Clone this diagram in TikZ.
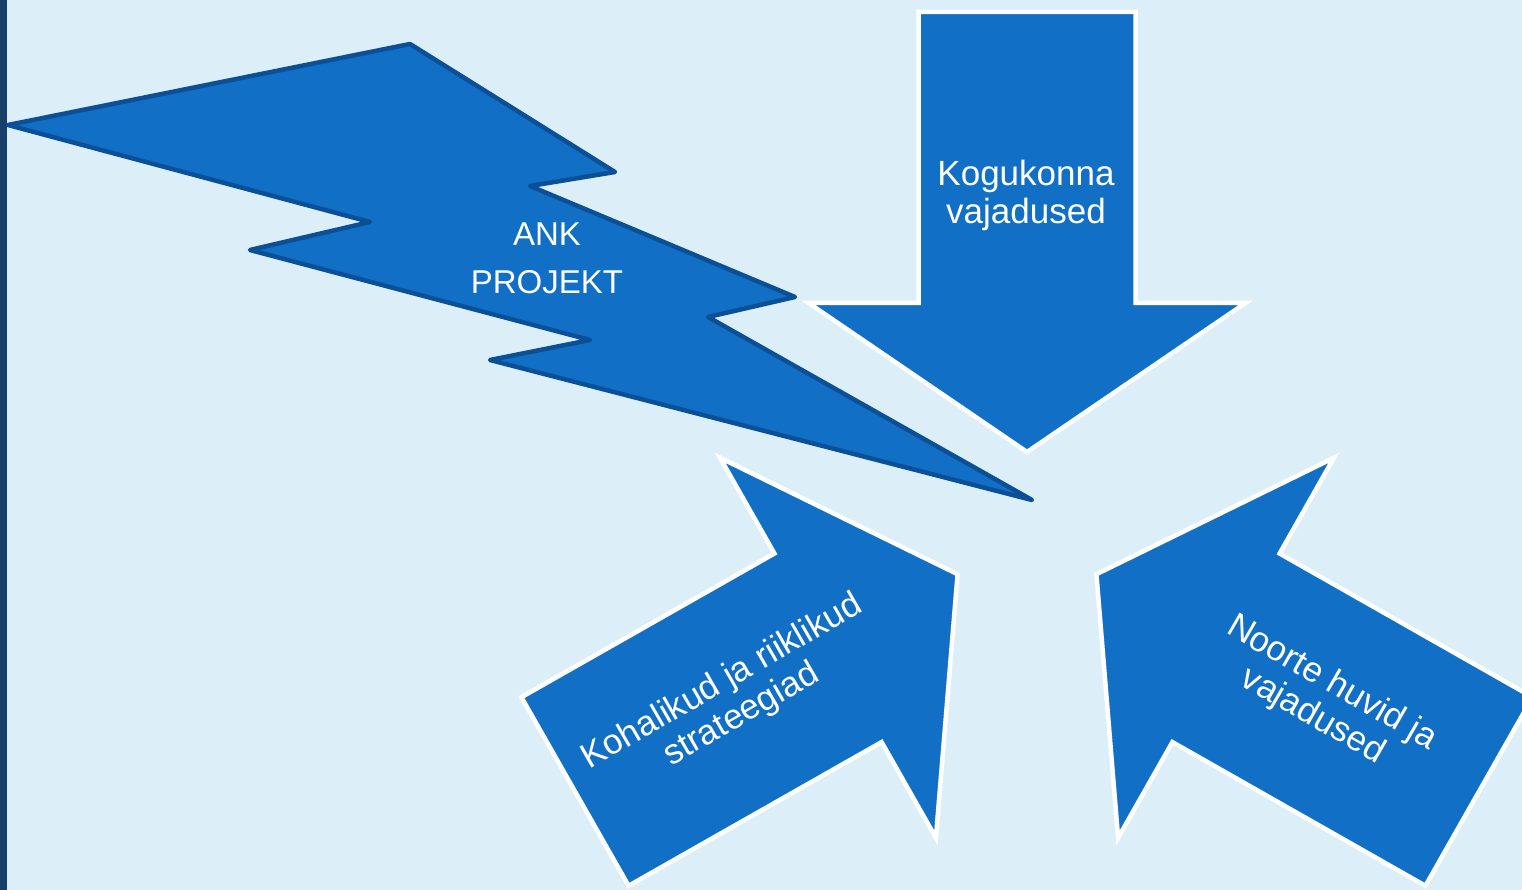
\documentclass[tikz,border=0pt]{standalone}
\usepackage{fontspec}
\setmainfont{Liberation Sans}
\definecolor{bgblue}{HTML}{DCEFF8}
\definecolor{barblue}{HTML}{173F6C}
\definecolor{fillblue}{HTML}{1170C5}
\definecolor{boltline}{HTML}{0B4F96}
\begin{document}
\begin{tikzpicture}[x=1pt,y=-1pt,
  arrowshape/.style={fill=fillblue,draw=white,line width=4.5pt,line join=miter},
  boltshape/.style={fill=fillblue,draw=boltline,line width=4.5pt,line join=round},
  label/.style={text=white,align=center,inner sep=0pt}]
\useasboundingbox (0,0) rectangle (1522,890);
\clip (0,0) rectangle (1522,890);
\fill[bgblue] (0,0) rectangle (1522,890);
\fill[barblue] (0,0) rectangle (7,890);
% down arrow
\draw[arrowshape] (918.5,12) -- (1135.5,12) -- (1135.5,303) -- (1245.5,303) -- (1027,452) -- (808.5,303) -- (918.5,303) -- cycle;
% lower left arrow
\draw[arrowshape] (521.4,697.2) -- (774.4,553.5) -- (720.1,457.8) -- (957.6,574.2) -- (935.9,837.8) -- (881.6,742.1) -- (628.6,885.8) -- cycle;
% lower right arrow
\draw[arrowshape] (1532.6,697.2) -- (1279.6,553.5) -- (1333.9,457.8) -- (1096.4,574.2) -- (1118.1,837.8) -- (1172.4,742.1) -- (1425.4,885.8) -- cycle;
% bolt
\draw[boltshape] (8,125) -- (410,44) -- (615,172) -- (530,186) -- (795,297) -- (708,317) -- (1032,500) -- (490,360) -- (590,340) -- (250,250) -- (370,222) -- cycle;
% texts
\node[label,font=\fontsize{35}{38}\selectfont] (kog) at (1026,195) {Kogukonna\\vajadused};
\node[label,font=\fontsize{33}{48}\selectfont] (ank) at (547,258) {ANK\\PROJEKT};
\node[label,font=\fontsize{35}{38}\selectfont,rotate=30] (koh) at (732,699) {Kohalikud ja riiklikud\\strateegiad};
\node[label,font=\fontsize{35}{38}\selectfont,rotate=-30] (noo) at (1322,700) {Noorte huvid ja\\vajadused};
\end{tikzpicture}
\end{document}
